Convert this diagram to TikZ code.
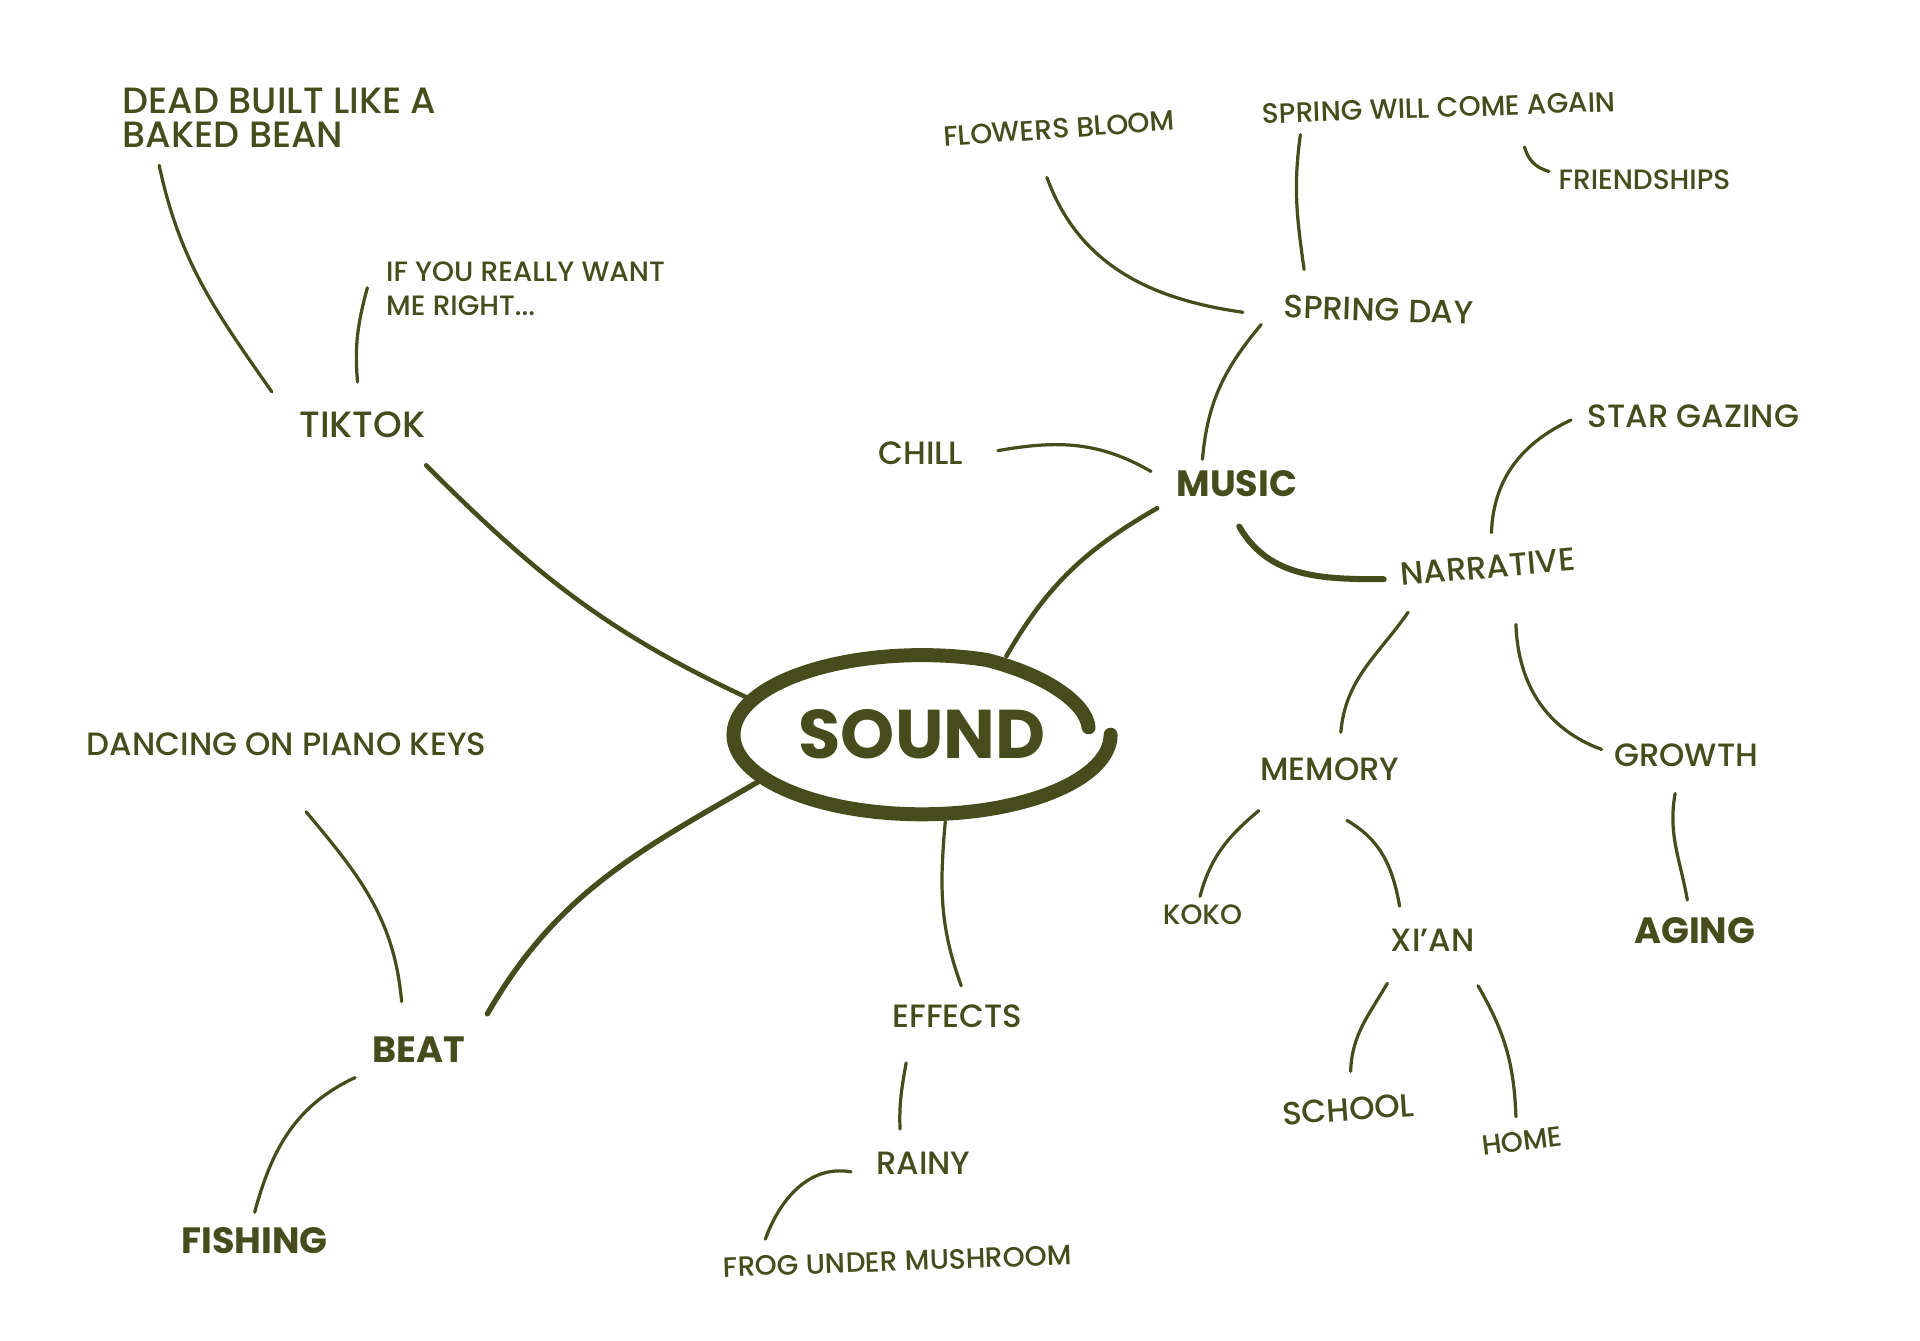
\documentclass[tikz,border=0pt]{standalone}
\usepackage{fontspec}
\setmainfont{Poppins}[UprightFont=* Medium, BoldFont=* Bold]
\usetikzlibrary{calc, shapes.geometric}
\definecolor{ink}{RGB}{70, 76, 28}

\begin{document}
\begin{tikzpicture}[x=0.2mm, y=-0.2mm,
        leaf/.style={text=ink, font=\fontsize{15}{16}\selectfont, inner sep=0pt},
        twig/.style={text=ink, font=\fontsize{13}{16}\selectfont, inner sep=0pt},
        hub/.style={text=ink, font=\fontsize{17}{20}\selectfont\bfseries, inner sep=0pt},
        core/.style={ellipse, minimum width=63.2mm, minimum height=28.4mm, inner sep=0pt,
                     text=ink, font=\fontsize{32}{36}\selectfont\bfseries},
        branch/.style={draw=ink, line width=1.5pt, line cap=round},
        trunk/.style={draw=ink, line width=2.1pt, line cap=round},
        ring/.style={draw=ink, line width=6.5pt, line cap=round}]
    \fill[white] (0,0) rectangle (1568,1095);
    \useasboundingbox (0,0) rectangle (1568,1095);

    % centre
    \node[core] (sound) at (753,600) {SOUND};
    \draw[ring] (sound.center) ++(154,0)
        arc[start angle=0, end angle=290, x radius=154, y radius=65]
        .. controls +(48,12) and +(-2,-20) .. ($(sound.center)+(136,-6)$);

    % tiktok branch
    \node[leaf, font=\fontsize{17}{20}\selectfont] (tiktok) at (296,347) {TIKTOK};
    \node[leaf, font=\fontsize{17}{16}\selectfont, anchor=west, align=left] (bean) at (100,96) {DEAD BUILT LIKE A\\BAKED BEAN};
    \node[twig, anchor=west, align=left] (ifyou) at (315,236) {IF YOU REALLY WANT\\ME RIGHT...};
    \draw[trunk] ($(tiktok)+(52,33)$) to[out=-45, in=155] (sound.168);
    \draw[branch] ($(bean.west)+(30,39)$) to[out=-78, in=125] ($(tiktok)+(-74,-27)$);
    \draw[branch] ($(tiktok)+(-4,-35)$) to[out=95, in=-105] ($(ifyou.west)+(-15,-1)$);

    % music branch
    \node[hub] (music) at (1010,395) {MUSIC};
    \node[leaf] (chill) at (752,370) {CHILL};
    \node[leaf, rotate=-2] (springday) at (1126,253) {SPRING DAY};
    \node[twig, rotate=4] (flowers) at (865,105) {FLOWERS BLOOM};
    \node[twig, rotate=2] (again) at (1175,88) {SPRING WILL COME AGAIN};
    \node[twig] (friends) at (1343,147) {FRIENDSHIPS};
    \draw[trunk] (sound.43) to[out=60, in=-150] ($(music)+(-65,20)$);
    \draw[branch] ($(music)+(-70,-10)$) to[out=150, in=10] ($(chill)+(63,-2)$);
    \draw[branch] ($(music)+(-28,-20)$) to[out=85, in=-130] ($(springday)+(-96,12)$);
    \draw[branch] ($(springday)+(-111,2)$) to[out=172, in=-70] ($(flowers)+(-10,40)$);
    \draw[branch] ($(springday)+(-61,-33)$) to[out=98, in=-98] ($(again)+(-113,22)$);
    \draw[branch] ($(again)+(70,32)$) to[out=-75, in=165] ($(friends)+(-78,-7)$);

    % narrative
    \node[leaf, rotate=5] (narrative) at (1215,463) {NARRATIVE};
    \node[leaf] (stars) at (1383,340) {STAR GAZING};
    \node[leaf] (memory) at (1086,628) {MEMORY};
    \node[leaf] (growth) at (1377,617) {GROWTH};
    \node[hub] (aging) at (1384,760) {AGING};
    \draw[trunk, line width=2.8pt] ($(music)+(2,35)$) to[out=-60, in=180] ($(narrative)+(-85,10)$);
    \draw[branch] ($(narrative)+(3,-28)$) to[out=88, in=-155] ($(stars)+(-100,3)$);
    \draw[branch] ($(narrative)+(-65,37)$) to[out=-125, in=85] ($(memory)+(9,-30)$);
    \draw[branch] ($(narrative)+(23,47)$) to[out=-88, in=160] ($(growth)+(-69,-5)$);
    \draw[branch] ($(growth)+(-9,31)$) to[out=-100, in=100] ($(aging)+(-6,-25)$);

    % memory
    \node[twig] (koko) at (982,747) {KOKO};
    \node[leaf] (xian) at (1170,768) {XI'AN};
    \node[leaf, rotate=4] (school) at (1101,906) {SCHOOL};
    \node[twig, rotate=7] (home) at (1243,932) {HOME};
    \draw[branch] ($(memory)+(-58,34)$) to[out=-140, in=75] ($(koko)+(-2,-15)$);
    \draw[branch] ($(memory)+(14,42)$) to[out=-30, in=100] ($(xian)+(-27,-28)$);
    \draw[branch] ($(xian)+(-37,35)$) to[out=-120, in=88] ($(school)+(2,-31)$);
    \draw[branch] ($(xian)+(37,37)$) to[out=-60, in=92] ($(home)+(-5,-20)$);

    % effects
    \node[leaf] (effects) at (782,830) {EFFECTS};
    \node[leaf] (rainy) at (754,950) {RAINY};
    \node[twig, rotate=2] (frog) at (733,1030) {FROG UNDER MUSHROOM};
    \draw[branch] (sound.-75) to[out=-95, in=110] ($(effects)+(3,-25)$);
    \draw[branch] ($(effects)+(-42,38)$) to[out=-100, in=92] ($(rainy)+(-19,-28)$);
    \draw[branch] ($(rainy)+(-59,7)$) to[out=170, in=70] ($(frog)+(-108,-18)$);

    % beat
    \node[hub] (beat) at (342,857) {BEAT};
    \node[leaf] (dancing) at (234,608) {DANCING ON PIANO KEYS};
    \node[hub] (fishing) at (208,1013) {FISHING};
    \draw[trunk, line width=2.5pt] (sound.-164) to[out=-150, in=60] ($(beat)+(56,-29)$);
    \draw[branch] ($(beat)+(-14,-39)$) to[out=95, in=-50] ($(dancing)+(16,55)$);
    \draw[branch] ($(beat)+(-52,23)$) to[out=-155, in=75] ($(fishing)+(0,-23)$);
\end{tikzpicture}
\end{document}
